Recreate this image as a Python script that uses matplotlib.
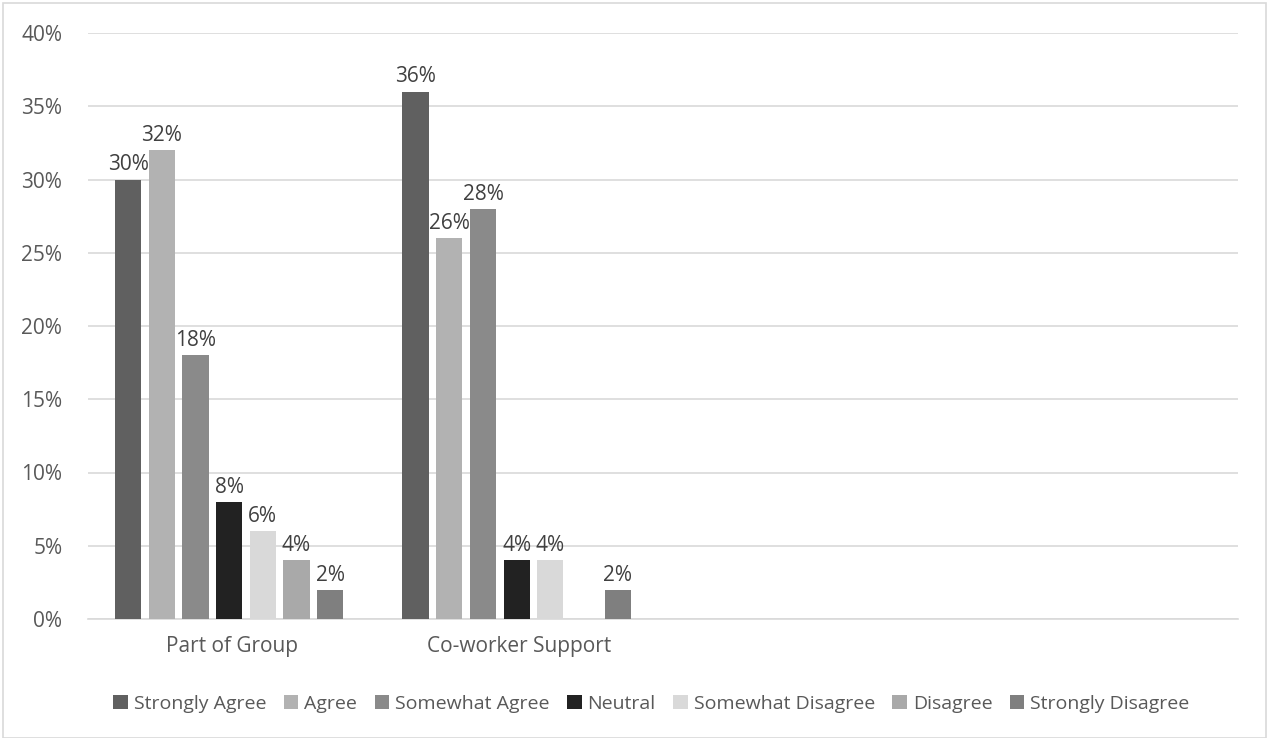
import matplotlib
matplotlib.use("Agg")
import matplotlib.pyplot as plt
from matplotlib.ticker import PercentFormatter

plt.rcParams['font.family'] = ['Open Sans', 'DejaVu Sans']

# data
categories = ["Part of Group", "Co-worker Support", "", ""]
series = ["Strongly Agree", "Agree", "Somewhat Agree", "Neutral",
          "Somewhat Disagree", "Disagree", "Strongly Disagree"]
strongly_agree = [30, 36, None, None]
agree = [32, 26, None, None]
somewhat_agree = [18, 28, None, None]
neutral = [8, 4, None, None]
somewhat_disagree = [6, 4, None, None]
disagree = [4, None, None, None]
strongly_disagree = [2, 2, None, None]
values = [strongly_agree, agree, somewhat_agree, neutral,
          somewhat_disagree, disagree, strongly_disagree]
colors = ["#606060", "#B2B2B2", "#8A8A8A", "#222222",
          "#D9D9D9", "#A9A9A9", "#7F7F7F"]

fig = plt.figure(figsize=(12.67, 7.38), dpi=100)
ax = fig.add_axes([88/1267, 1 - 619/738, (1238-88)/1267, (619-33)/738])

step = 0.1172
width = 0.091
for j, (name, vals, c) in enumerate(zip(series, values, colors)):
    xs, ys = [], []
    for i, v in enumerate(vals):
        if v is not None:
            xs.append(i + 0.491 + (j - 3) * step)
            ys.append(v)
    bars = ax.bar(xs, ys, width=width, color=c, label=name, zorder=3)
    for b, v in zip(bars, ys):
        ax.annotate(f"{v}%", (b.get_x() + b.get_width() / 2, v),
                    xytext=(0, 3), textcoords="offset points",
                    ha="center", va="bottom", fontsize=15, color="#404040")

ax.set_xlim(0, 4)
ax.set_ylim(0, 40)
ax.set_yticks(range(0, 41, 5))
ax.yaxis.set_major_formatter(PercentFormatter(decimals=0))
ax.set_xticks([i + 0.5 for i in range(4)])
ax.set_xticklabels(categories)
ax.tick_params(axis="both", length=0, labelsize=15, labelcolor="#595959")
ax.tick_params(axis="y", pad=18.5)
ax.tick_params(axis="x", pad=12)
ax.grid(axis="y", color="#D9D9D9", linewidth=1.2, zorder=0)
for s in ["top", "right", "left"]:
    ax.spines[s].set_visible(False)
ax.spines["bottom"].set_color("#D9D9D9")
ax.spines["bottom"].set_linewidth(1.2)

leg = ax.legend(loc="upper center", bbox_to_anchor=(0.49, -0.1), ncol=7,
                frameon=False, fontsize=14, handlelength=0.75, handleheight=0.75,
                handletextpad=0.3, columnspacing=0.9)
for t in leg.get_texts():
    t.set_color("#595959")

# chart border
fig.patches.append(plt.Rectangle((3/1267, 0), 1 - 4/1267, 1 - 3/738,
                                 transform=fig.transFigure, fill=False,
                                 edgecolor="#D9D9D9", linewidth=1.2))

fig.savefig("out.png", dpi=100)
